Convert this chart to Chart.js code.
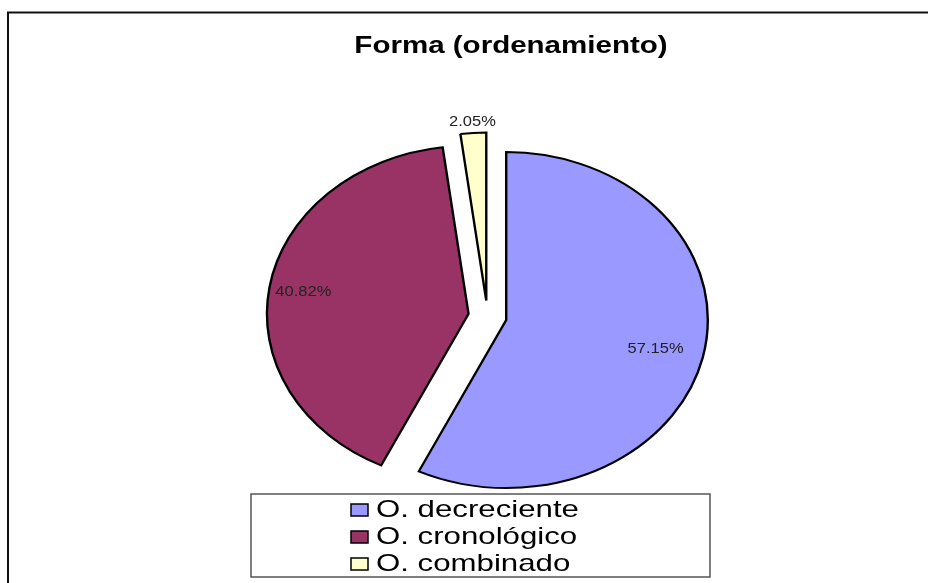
<!DOCTYPE html>
<html>
<head>
<meta charset="utf-8">
<script src="https://cdn.jsdelivr.net/npm/chart.js@4.4.1/dist/chart.umd.min.js"></script>
<style>
  html, body { margin: 0; padding: 0; background: #fff; }
  canvas { display: block; }
</style>
</head>
<body>
<canvas id="forma" width="928" height="583"></canvas>
<script>
var chartTitle = "Forma (ordenamiento)";
var labels = ["O. decreciente", "O. cronológico", "O. combinado"];
var values = [57.15, 40.82, 2.05];
var colors = ["#9999ff", "#993366", "#ffffcc"];

// where the % text sits, as a fraction of the radius along each slice
var labelPos = [0.76, 0.83, 1.065];

var STRETCH = 1.2;   // pie is drawn as an ellipse
var EXPLODE = 16;    // pixels each slice is pulled out

/* draw text stretched horizontally like the original picture */
var drawStretched = function(ctx, text, x, y, sx, font, align){
	ctx.save();
	ctx.translate(x, y);
	ctx.scale(sx, 1);
	ctx.font = font;
	ctx.textAlign = align;
	ctx.textBaseline = "middle";
	ctx.fillText(text, 0, 0);
	ctx.restore();
};

var explodePlugin = {
	id: "explode",
	afterDatasetsUpdate: function(chart){
		var arcs = chart.getDatasetMeta(0).data;
		for (var i = 0; i < arcs.length; i++) {
			var a = arcs[i];
			var mid = (a.startAngle + a.endAngle) / 2;
			a.x += Math.cos(mid) * EXPLODE;
			a.y += Math.sin(mid) * EXPLODE;
		}
	},
	beforeDatasetsDraw: function(chart){
		var ctx = chart.ctx, area = chart.chartArea;
		var cx = (area.left + area.right) / 2, cy = (area.top + area.bottom) / 2;
		ctx.save();
		ctx.translate(cx, cy);
		ctx.scale(STRETCH, 1);
		ctx.translate(-cx, -cy);
	},
	afterDatasetsDraw: function(chart){
		chart.ctx.restore();
	}
};

var decorPlugin = {
	id: "decor",
	beforeDraw: function(chart){
		var ctx = chart.ctx;
		ctx.save();
		ctx.strokeStyle = "#111";
		ctx.lineWidth = 2;
		ctx.strokeRect(8, 12.5, 2000, 2000);
		ctx.restore();
	},
	afterDraw: function(chart){
		var ctx = chart.ctx, area = chart.chartArea;
		var cx = (area.left + area.right) / 2, cy = (area.top + area.bottom) / 2;

		ctx.save();
		ctx.fillStyle = "#000";
		drawStretched(ctx, chartTitle, 511, 46, 1.23, "bold 24px Arial, 'Liberation Sans', sans-serif", "center");

		// percentage labels
		var arcs = chart.getDatasetMeta(0).data;
		ctx.fillStyle = "#222";
		for (var i = 0; i < arcs.length; i++) {
			var a = arcs[i];
			var mid = (a.startAngle + a.endAngle) / 2;
			var r = a.outerRadius * labelPos[i];
			var px = a.x + Math.cos(mid) * r;
			var py = a.y + Math.sin(mid) * r;
			px = cx + (px - cx) * STRETCH;
			drawStretched(ctx, values[i].toFixed(2) + "%", px, py, 1.1, "15px Arial, 'Liberation Sans', sans-serif", "center");
		}

		// legend box
		ctx.strokeStyle = "#555";
		ctx.lineWidth = 1.5;
		ctx.strokeRect(251, 494, 459, 83);
		for (var i = 0; i < labels.length; i++) {
			var y = 510 + i * 27;
			ctx.fillStyle = colors[i];
			ctx.fillRect(351, y - 6, 17, 12);
			ctx.strokeStyle = "#000";
			ctx.lineWidth = 1.5;
			ctx.strokeRect(351, y - 6, 17, 12);
			ctx.fillStyle = "#000";
			drawStretched(ctx, labels[i], 376, y, 1.3, "24px Arial, 'Liberation Sans', sans-serif", "left");
		}
		ctx.restore();
	}
};

var ctx = document.getElementById("forma");
var myPieChart = new Chart(ctx, {
	type: "pie",
	data: {
		labels: labels,
		datasets: [{
			data: values,
			backgroundColor: colors,
			borderColor: "#000",
			borderWidth: 2,
			borderJoinStyle: "miter"
		}]
	},
	options: {
		responsive: false,
		animation: false,
		radius: 168,
		layout: { padding: { left: 47, right: 0, top: 50, bottom: 0 } },
		plugins: {
			legend: { display: false },
			title: { display: false },
			tooltip: { enabled: false }
		}
	},
	plugins: [explodePlugin, decorPlugin]
});
</script>
</body>
</html>
